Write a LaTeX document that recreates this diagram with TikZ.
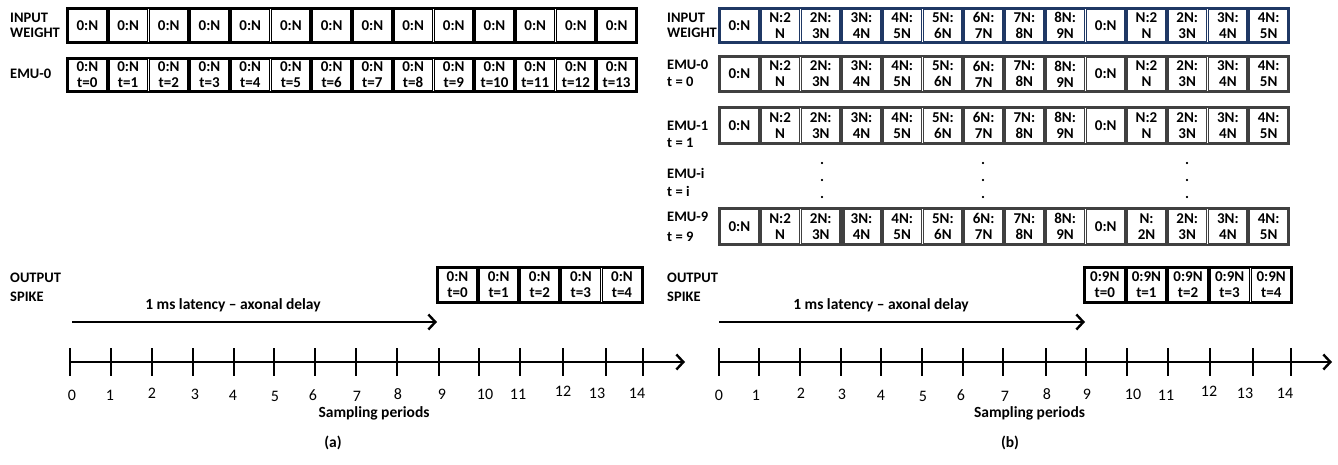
\documentclass[tikz,border=0pt]{standalone}
\usepackage{fontspec}
\setmainfont{Carlito}
\usetikzlibrary{arrows.meta}
\definecolor{navy}{RGB}{31,56,100}
\definecolor{emugray}{RGB}{64,64,64}
\newcommand\cellrow[8]{%
  \foreach \ctext [count=\ci] in {#8} {
    \node[cell, draw=#7, minimum width={#5-2.0}, minimum height={#4-2.2}] (#1-\ci) at ({#2+(\ci-0.5)*#5},#3) {\ctext};
  }
  \draw[frame, draw=#7] (#2,{#3-#4/2}) rectangle ({#2+#6*#5},{#3+#4/2});
}
\begin{document}
\begin{tikzpicture}[x=1pt,y=-1pt,
  cell/.style={line width=1.8pt, inner sep=0pt, align=center, font=\fontsize{15}{16}\selectfont\bfseries},
  frame/.style={line width=2.8pt},
  lbl/.style={anchor=west, align=left, inner sep=0pt},
  boldtxt/.style={inner sep=0pt, font=\fontsize{15.5}{16}\selectfont\bfseries},
  ticklbl/.style={inner sep=0pt, font=\fontsize{16}{16}\selectfont},
  dotlbl/.style={inner sep=0pt, font=\fontsize{15}{16}\selectfont\bfseries},
  axis/.style={line width=2.4pt, -{Straight Barb[length=7pt,width=15pt]}},
  tickmark/.style={line width=2pt},
]
\useasboundingbox (0,0) rectangle (1338,464);

% ---------------- panel (a) ----------------
\cellrow{liw}{67}{25.5}{35}{40.714}{14}{black}{0:N,0:N,0:N,0:N,0:N,0:N,0:N,0:N,0:N,0:N,0:N,0:N,0:N,0:N}
\cellrow{le}{67}{75}{34}{40.714}{14}{black}{{0:N\\t=0},{0:N\\t=1},{0:N\\t=2},{0:N\\t=3},{0:N\\t=4},{0:N\\t=5},{0:N\\t=6},{0:N\\t=7},{0:N\\t=8},{0:N\\t=9},{0:N\\t=10},{0:N\\t=11},{0:N\\t=12},{0:N\\t=13}}
\cellrow{lo}{437}{285}{36}{41.1}{5}{black}{{0:N\\t=0},{0:N\\t=1},{0:N\\t=2},{0:N\\t=3},{0:N\\t=4}}

\node[lbl, font=\fontsize{14.5}{15}\selectfont\bfseries] (lIW) at (10,25.5) {INPUT\\WEIGHT};
\node[lbl, font=\fontsize{14.5}{15}\selectfont\bfseries] (lE0) at (10,74) {EMU-0};
\node[lbl, font=\fontsize{14.5}{19}\selectfont\bfseries] (lOS) at (10,287) {OUTPUT\\SPIKE};

\coordinate (latA0) at (72,322);
\coordinate (latA1) at (437,322);
\draw[axis] (latA0) -- (latA1);
\node[boldtxt] (latAtxt) at (233,305) {1 ms latency – axonal delay};

\coordinate (axA0) at (70,362);
\coordinate (axA1) at (685,362);
\draw[axis] (axA0) -- (axA1);
\foreach \x in {70,111,152,193,234,274,315,356,397,439,479,520,563,606,643}
  \draw[tickmark] (\x,348) -- (\x,376);
\foreach \x/\y/\l [count=\k] in {72/395/0,110/395/1,152/393/2,195/394/3,233/395/4,275/396/5,313/395/6,357/396/7,398/394/8,442/394/9,485/394/10,518/394/11,563/391/12,597/393/13,637/393/14}
  \node[ticklbl] (tA\k) at (\x,\y) {\l};
\node[boldtxt] (spA) at (374,413) {Sampling periods};
\node[boldtxt] (capA) at (333,443) {(a)};

% ---------------- panel (b) ----------------
\cellrow{riw}{719}{25.5}{35}{40.714}{14}{navy}{0:N,{N:2\\N},{2N:\\3N},{3N:\\4N},{4N:\\5N},{5N:\\6N},{6N:\\7N},{7N:\\8N},{8N:\\9N},0:N,{N:2\\N},{2N:\\3N},{3N:\\4N},{4N:\\5N}}
\cellrow{re0}{719}{74}{36}{40.714}{14}{emugray}{0:N,{N:2\\N},{2N:\\3N},{3N:\\4N},{4N:\\5N},{5N:\\6N},{6N:\\7N},{7N:\\8N},{8N:\\9N},0:N,{N:2\\N},{2N:\\3N},{3N:\\4N},{4N:\\5N}}
\cellrow{re1}{719}{125.5}{37}{40.714}{14}{emugray}{0:N,{N:2\\N},{2N:\\3N},{3N:\\4N},{4N:\\5N},{5N:\\6N},{6N:\\7N},{7N:\\8N},{8N:\\9N},0:N,{N:2\\N},{2N:\\3N},{3N:\\4N},{4N:\\5N}}
\cellrow{re9}{719}{226.5}{37}{40.714}{14}{emugray}{0:N,{N:2\\N},{2N:\\3N},{3N:\\4N},{4N:\\5N},{5N:\\6N},{6N:\\7N},{7N:\\8N},{8N:\\9N},0:N,{N:\\2N},{2N:\\3N},{3N:\\4N},{4N:\\5N}}
\draw[emugray, line width=1.6pt] (844,209) -- (844,244);
\cellrow{ro}{1084}{285}{36}{41.6}{5}{black}{{0:9N\\t=0},{0:9N\\t=1},{0:9N\\t=2},{0:9N\\t=3},{0:9N\\t=4}}

\node[lbl, font=\fontsize{14.5}{15}\selectfont\bfseries] (rIW) at (667,25.5) {INPUT\\WEIGHT};
\node[lbl, font=\fontsize{14.5}{17}\selectfont\bfseries] (rE0) at (667,73.5) {EMU-0\\t = 0};
\node[lbl, font=\fontsize{14.5}{17}\selectfont\bfseries] (rE1) at (667,134.5) {EMU-1\\t = 1};
\node[lbl, font=\fontsize{14.5}{18}\selectfont\bfseries] (rEi) at (667,182) {EMU-i\\t = i};
\node[lbl, font=\fontsize{14.5}{20}\selectfont\bfseries] (rE9) at (667,227) {EMU-9\\t = 9};
\node[lbl, font=\fontsize{14.5}{19}\selectfont\bfseries] (rOS) at (667,287) {OUTPUT\\SPIKE};

\foreach \x [count=\k] in {822,983,1187} {
  \node[dotlbl] (dA\k) at (\x,163) {.};
  \node[dotlbl] (dB\k) at (\x,180) {.};
  \node[dotlbl] (dC\k) at (\x,197) {.};
}

\coordinate (latB0) at (719,322);
\coordinate (latB1) at (1085,322);
\draw[axis] (latB0) -- (latB1);
\node[boldtxt] (latBtxt) at (881,305) {1 ms latency – axonal delay};

\coordinate (axB0) at (718,362);
\coordinate (axB1) at (1332,362);
\draw[axis] (axB0) -- (axB1);
\foreach \x in {719,759,800,841,881,922,963,1003,1046,1086,1127,1168,1210,1253,1291}
  \draw[tickmark] (\x,348) -- (\x,376);
\foreach \x/\y/\l [count=\k] in {719/395/0,756/395/1,801/393/2,842/394/3,881/395/4,923/396/5,961/395/6,1005/396/7,1047/394/8,1087/394/9,1133/394/10,1166/395/11,1209/391/12,1245/393/13,1285/393/14}
  \node[ticklbl] (tB\k) at (\x,\y) {\l};
\node[boldtxt] (spB) at (1029.5,413) {Sampling periods};
\node[boldtxt] (capB) at (1010,443) {(b)};
\end{tikzpicture}
\end{document}
